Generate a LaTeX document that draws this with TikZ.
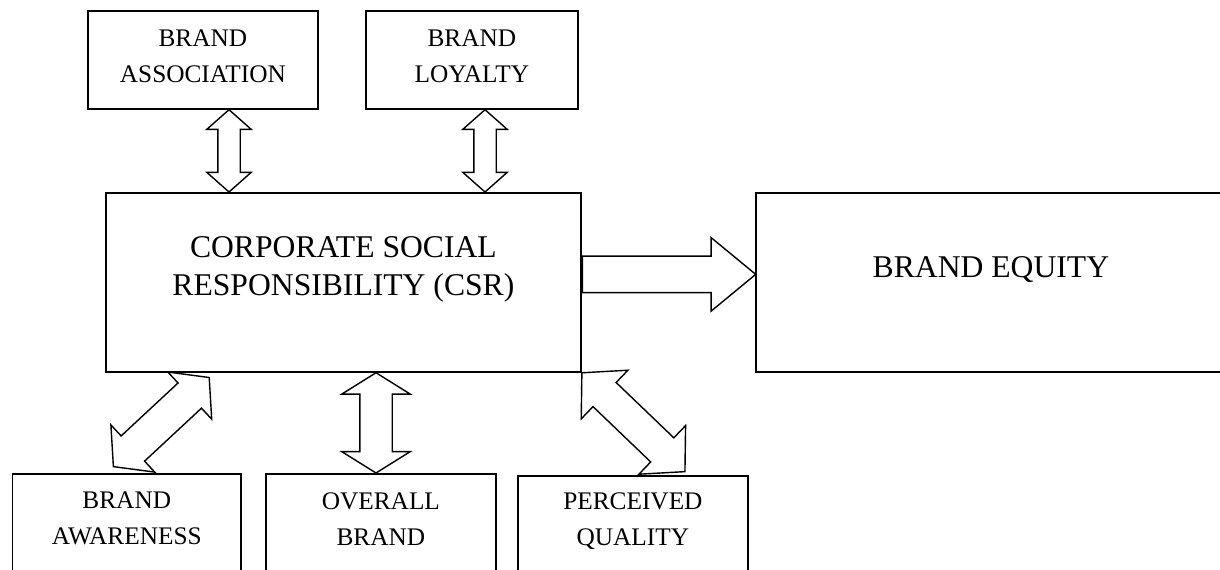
\documentclass[tikz,border=0pt]{standalone}
\usepackage{fontspec}
\setmainfont{Liberation Serif}
\usetikzlibrary{
	calc,
	positioning,
	shapes.arrows,
}
\tikzset{box/.style={draw,rectangle,line width=1.2pt,inner sep=0pt,align=center,anchor=north west,}}
\tikzset{small text/.style={font=\fontsize{18}{25.6}\selectfont,}}
\tikzset{big text/.style={font=\fontsize{22.5}{27}\selectfont,}}
\tikzset{twoway/.style={double arrow,draw,line width=1pt,inner xsep=0pt,minimum width=0pt,double arrow head indent=0pt,}}
\tikzset{oneway/.style={single arrow,draw,line width=1pt,inner xsep=0pt,minimum width=0pt,single arrow head indent=0pt,pos=0,anchor=tail,}}

% block arrow laid along the line from #2 to #3
\newcommand{\blockarrow}[3]{%
	\path let \p1=(#2), \p2=(#3), \n1={veclen(\x2-\x1,\y2-\y1)} in
	(#2) -- node[sloped,minimum height=\n1,#1]{} (#3);}

\begin{document}
\begin{tikzpicture}[x=0.025cm,y=-0.025cm]
\clip (0,0) rectangle (1220,570);

\node[box,small text,minimum width=5.75cm,text height=1.79cm,text depth=0.66cm] (assoc) at (87,10) {BRAND\\ASSOCIATION};
\node[box,small text,minimum width=5.3cm,text height=1.79cm,text depth=0.66cm] (loyal) at (365,10) {BRAND\\LOYALTY};
\node[box,big text,minimum width=11.875cm,text height=2.575cm,text depth=1.9cm] (csr) at (105,192) {CORPORATE SOCIAL\\RESPONSIBILITY (CSR)};
\node[box,big text,minimum width=11.75cm,text height=2.12cm,text depth=2.355cm] (equity) at (755,192) {BRAND EQUITY};
\node[box,small text,minimum width=5.71cm,text height=1.775cm,text depth=3cm] (aware) at (11.7,473) {BRAND\\AWARENESS};
\node[box,small text,minimum width=5.75cm,text height=1.8cm,text depth=3cm] (overall) at (265,473) {OVERALL\\BRAND};
\node[box,small text,minimum width=5.75cm,text height=1.75cm,text depth=3cm] (perceived) at (517,475) {PERCEIVED\\QUALITY};

\coordinate (a1) at ($(assoc.south west)+(142,0)$);
\coordinate (l1) at ($(loyal.south west)+(120,0)$);
\coordinate (o1) at ($(overall.north west)+(111,0)$);
\coordinate (w1) at ($(aware.north west)+(101.6,-6.3)$);
\coordinate (w2) at ($(csr.south west)+(104.3,4.7)$);
\coordinate (p1) at ($(perceived.north west)+(168,-3.3)$);
\coordinate (e1) at ($(csr.east)+(0,-8)$);

\blockarrow{twoway,inner ysep=0.2625cm,double arrow head extend=0.275cm,double arrow tip angle=97}{a1}{a1 |- csr.north}
\blockarrow{twoway,inner ysep=0.2625cm,double arrow head extend=0.275cm,double arrow tip angle=97}{l1}{l1 |- csr.north}
\blockarrow{twoway,inner ysep=0.3875cm,double arrow head extend=0.45cm,double arrow tip angle=116}{o1}{o1 |- csr.south}
\blockarrow{twoway,inner ysep=0.4125cm,double arrow head extend=0.375cm,double arrow tip angle=101}{w1}{w2}
\blockarrow{twoway,inner ysep=0.4cm,double arrow head extend=0.425cm,double arrow tip angle=94}{csr.south east}{p1}
\blockarrow{oneway,inner ysep=0.4375cm,single arrow head extend=0.4625cm,single arrow tip angle=79}{e1}{e1 -| equity.west}
\end{tikzpicture}
\end{document}
